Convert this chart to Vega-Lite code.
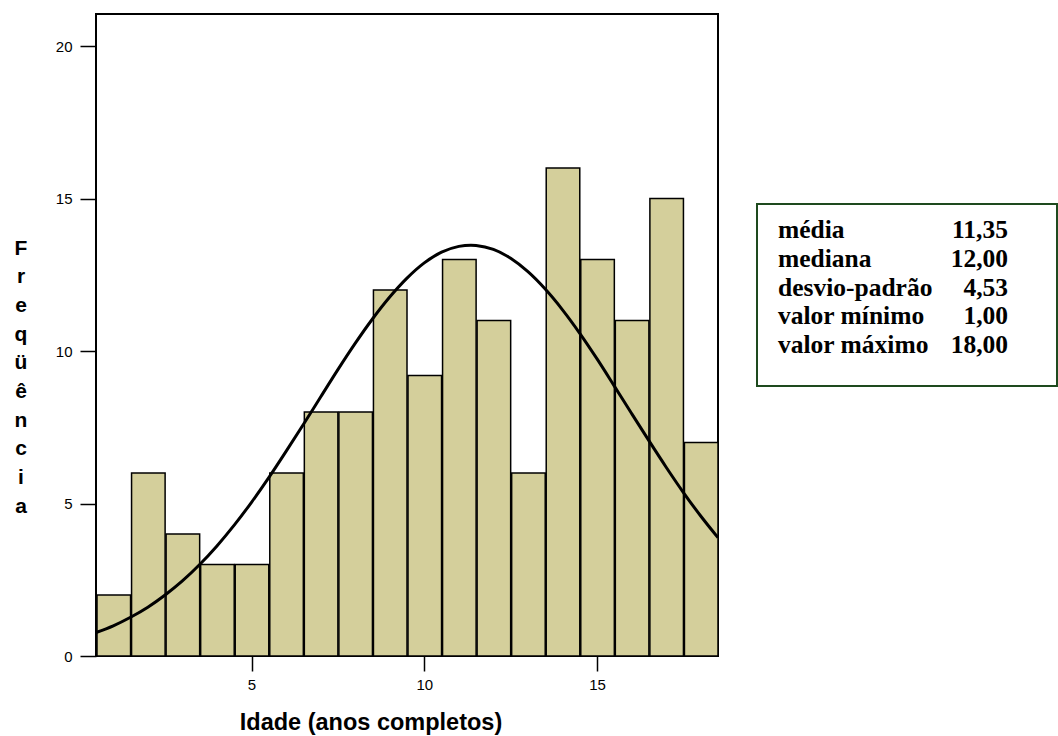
{
  "$schema": "https://vega.github.io/schema/vega-lite/v6.json",
  "padding": {"left": 13, "top": 13, "right": 0, "bottom": 0},
  "background": "white",
  "config": {
    "font": "Liberation Sans",
    "axis": {"grid": false, "domain": false, "tickColor": "black", "labelColor": "black", "titleColor": "black", "labelFontSize": 15}
  },
  "datasets": {
    "hist": [
      {"age": 1, "freq": 2}, {"age": 2, "freq": 6}, {"age": 3, "freq": 4}, {"age": 4, "freq": 3},
      {"age": 5, "freq": 3}, {"age": 6, "freq": 6}, {"age": 7, "freq": 8}, {"age": 8, "freq": 8},
      {"age": 9, "freq": 12}, {"age": 10, "freq": 9.2}, {"age": 11, "freq": 13}, {"age": 12, "freq": 11},
      {"age": 13, "freq": 6}, {"age": 14, "freq": 16}, {"age": 15, "freq": 13}, {"age": 16, "freq": 11},
      {"age": 17, "freq": 15}, {"age": 18, "freq": 7}
    ],
    "curve": [
      {"x": 0.5, "y": 0.77}, {"x": 1, "y": 0.99}, {"x": 1.5, "y": 1.27}, {"x": 2, "y": 1.6},
      {"x": 2.5, "y": 2.0}, {"x": 3, "y": 2.46}, {"x": 3.5, "y": 3.0}, {"x": 4, "y": 3.61},
      {"x": 4.5, "y": 4.29}, {"x": 5, "y": 5.04}, {"x": 5.5, "y": 5.85}, {"x": 6, "y": 6.71},
      {"x": 6.5, "y": 7.59}, {"x": 7, "y": 8.49}, {"x": 7.5, "y": 9.39}, {"x": 8, "y": 10.25},
      {"x": 8.5, "y": 11.05}, {"x": 9, "y": 11.77}, {"x": 9.5, "y": 12.39}, {"x": 10, "y": 12.89},
      {"x": 10.5, "y": 13.24}, {"x": 11, "y": 13.43}, {"x": 11.35, "y": 13.47}, {"x": 11.5, "y": 13.46},
      {"x": 12, "y": 13.33}, {"x": 12.5, "y": 13.04}, {"x": 13, "y": 12.6}, {"x": 13.5, "y": 12.03},
      {"x": 14, "y": 11.35}, {"x": 14.5, "y": 10.58}, {"x": 15, "y": 9.74}, {"x": 15.5, "y": 8.85},
      {"x": 16, "y": 7.95}, {"x": 16.5, "y": 7.06}, {"x": 17, "y": 6.19}, {"x": 17.5, "y": 5.36},
      {"x": 18, "y": 4.59}, {"x": 18.5, "y": 3.88}
    ],
    "stats": [
      {"label": "média", "value": "11,35"},
      {"label": "mediana", "value": "12,00"},
      {"label": "desvio-padrão", "value": "4,53"},
      {"label": "valor mínimo", "value": "1,00"},
      {"label": "valor máximo", "value": "18,00"}
    ]
  },
  "hconcat": [
    {
      "width": 622,
      "height": 642,
      "view": {"stroke": "black", "strokeWidth": 2},
      "layer": [
        {
          "data": {"name": "hist"},
          "mark": {"type": "bar", "fill": "#d4cf9b", "stroke": "black", "strokeWidth": 1.5},
          "encoding": {
            "x": {"field": "age", "type": "quantitative", "bin": {"step": 1, "anchor": 0.5, "extent": [0.5, 18.5]},
              "scale": {"domain": [0.5, 18.5], "nice": false, "zero": false},
              "axis": {
                "values": [5, 10, 15], "format": "d",
                "tickSize": 15, "tickWidth": 1.5, "labelFontSize": 15, "labelPadding": 6,
                "title": "Idade (anos completos)", "titleFontSize": 23.5, "titleFontWeight": "bold",
                "titleX": 274.5, "titleY": 73, "titleBaseline": "alphabetic", "titleAlign": "center"
              }
            },
            "y": {"field": "freq", "type": "quantitative", "aggregate": "sum",
              "scale": {"domain": [0, 21.05], "nice": false},
              "axis": {
                "values": [0, 5, 10, 15, 20],
                "tickSize": 16, "tickWidth": 1.5, "labelFontSize": 15, "labelPadding": 8,
                "title": ["F", "r", "e", "q", "ü", "ê", "n", "c", "i", "a"],
                "titleFontSize": 21, "titleFontWeight": "bold", "titleAngle": 0,
                "titleLineHeight": 28.7, "titleAlign": "center", "titleBaseline": "alphabetic",
                "titleX": -75.5, "titleY": 240
              }
            }
          }
        },
        {
          "data": {"name": "curve"},
          "mark": {"type": "line", "color": "black", "strokeWidth": 3, "interpolate": "monotone"},
          "encoding": {
            "x": {
              "field": "x", "type": "quantitative",
              "scale": {"domain": [0.5, 18.5], "nice": false, "zero": false},
              "axis": {
                "values": [5, 10, 15], "format": "d",
                "tickSize": 15, "tickWidth": 1.5, "labelFontSize": 15, "labelPadding": 6,
                "title": "Idade (anos completos)", "titleFontSize": 23.5, "titleFontWeight": "bold",
                "titleX": 274.5, "titleY": 73, "titleBaseline": "alphabetic", "titleAlign": "center"
              }
            },
            "y": {
              "field": "y", "type": "quantitative",
              "scale": {"domain": [0, 21.05], "nice": false},
              "axis": {
                "values": [0, 5, 10, 15, 20],
                "tickSize": 16, "tickWidth": 1.5, "labelFontSize": 15, "labelPadding": 8,
                "title": ["F", "r", "e", "q", "ü", "ê", "n", "c", "i", "a"],
                "titleFontSize": 21, "titleFontWeight": "bold", "titleAngle": 0,
                "titleLineHeight": 28.7, "titleAlign": "center", "titleBaseline": "alphabetic",
                "titleX": -75.5, "titleY": 240
              }
            }
          }
        }
      ]
    },
    {
      "spacing": 20,
      "vconcat": [
        {
          "width": 300,
          "height": 169,
          "view": {"stroke": null},
          "data": {"values": []},
          "mark": "text",
          "encoding": {}
        },
        {
          "width": 300,
          "height": 182,
          "view": {"stroke": "#1e4a1e", "strokeWidth": 2},
          "data": {"name": "stats"},
          "encoding": {
            "y": {"field": "label", "type": "nominal", "sort": null, "axis": null,
                  "scale": {"type": "point", "padding": 0, "range": [34, 149]}}
          },
          "layer": [
            {
              "mark": {"type": "text", "font": "Liberation Serif", "fontWeight": "bold", "fontSize": 25.5, "align": "left", "baseline": "alphabetic", "dx": -129, "color": "black"},
              "encoding": {"text": {"field": "label"}}
            },
            {
              "mark": {"type": "text", "font": "Liberation Serif", "fontWeight": "bold", "fontSize": 25.5, "align": "right", "baseline": "alphabetic", "dx": 101, "color": "black"},
              "encoding": {"text": {"field": "value"}}
            }
          ]
        }
      ]
    }
  ],
  "spacing": 31
}
